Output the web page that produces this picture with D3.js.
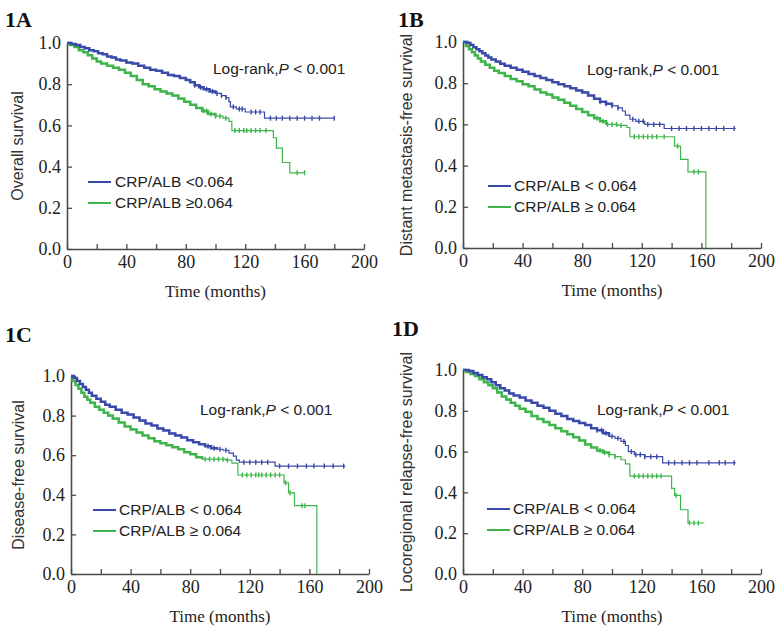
<!DOCTYPE html>
<html>
<head>
<meta charset="utf-8">
<script src="https://cdn.jsdelivr.net/npm/d3@7"></script>
<style>
  body { margin: 0; background: #fff; }
  svg { display: block; }
</style>
</head>
<body>
<svg id="chart" width="784" height="633"></svg>
<script>
// Kaplan-Meier step points [months, survival]
var osLow = [[0,1.0],[3,0.995],[6,0.99],[9,0.98],[12,0.975],[15,0.965],[18,0.96],[21,0.95],[24,0.945],[27,0.935],[30,0.93],[33,0.92],[36,0.915],[40,0.905],[44,0.9],[48,0.89],[52,0.88],[56,0.87],[60,0.865],[64,0.855],[68,0.845],[72,0.84],[76,0.83],[80,0.82],[83,0.81],[86,0.795],[89,0.785],[92,0.775],[96,0.765],[100,0.755],[104,0.745],[107,0.735],[109,0.715],[110,0.69],[114,0.68],[120,0.665],[133,0.635],[180,0.635]];
var osHigh = [[0,1.0],[2,0.99],[5,0.98],[8,0.965],[11,0.955],[14,0.94],[17,0.925],[20,0.91],[23,0.9],[27,0.89],[31,0.88],[35,0.87],[39,0.855],[43,0.84],[47,0.82],[51,0.8],[55,0.79],[59,0.775],[63,0.765],[67,0.755],[71,0.745],[75,0.73],[79,0.715],[83,0.7],[87,0.685],[91,0.67],[95,0.655],[100,0.645],[105,0.635],[109,0.62],[111,0.575],[139,0.54],[141,0.49],[145,0.42],[150,0.37],[160,0.37]];
var dmfsLow = [[0,1.0],[3,0.995],[5,0.985],[7,0.975],[9,0.965],[11,0.955],[13,0.945],[15,0.935],[17,0.925],[19,0.915],[22,0.905],[25,0.895],[28,0.885],[32,0.875],[36,0.865],[40,0.855],[44,0.845],[48,0.835],[52,0.825],[56,0.815],[60,0.805],[64,0.795],[68,0.785],[72,0.775],[76,0.765],[80,0.755],[84,0.74],[88,0.725],[92,0.71],[96,0.7],[100,0.69],[104,0.68],[107,0.665],[109,0.645],[112,0.625],[116,0.615],[122,0.6],[135,0.58],[183,0.58]];
var dmfsHigh = [[0,1.0],[2,0.98],[4,0.965],[6,0.95],[8,0.935],[10,0.92],[12,0.905],[15,0.89],[18,0.875],[21,0.86],[24,0.85],[28,0.835],[32,0.82],[36,0.81],[40,0.795],[44,0.785],[48,0.77],[52,0.755],[56,0.745],[60,0.73],[64,0.72],[68,0.705],[72,0.69],[76,0.675],[80,0.66],[84,0.645],[88,0.63],[92,0.615],[96,0.6],[104,0.595],[110,0.585],[112,0.54],[142,0.495],[146,0.43],[151,0.37],[163,0.0]];
var dfsLow = [[0,1.0],[2,0.99],[4,0.975],[6,0.96],[8,0.945],[10,0.93],[12,0.915],[14,0.9],[17,0.885],[20,0.87],[23,0.855],[26,0.845],[30,0.83],[34,0.815],[38,0.805],[42,0.79],[46,0.775],[50,0.76],[54,0.75],[58,0.735],[62,0.725],[66,0.71],[70,0.7],[74,0.69],[78,0.675],[82,0.665],[86,0.655],[90,0.645],[94,0.635],[98,0.63],[102,0.625],[106,0.61],[109,0.595],[111,0.575],[113,0.565],[137,0.545],[184,0.545]];
var dfsHigh = [[0,1.0],[1,0.975],[3,0.955],[5,0.935],[7,0.915],[9,0.895],[11,0.88],[13,0.865],[16,0.845],[19,0.83],[22,0.815],[25,0.8],[28,0.785],[32,0.765],[36,0.745],[40,0.73],[44,0.715],[48,0.7],[52,0.685],[56,0.67],[60,0.66],[64,0.65],[68,0.64],[72,0.63],[76,0.615],[80,0.605],[84,0.59],[88,0.58],[104,0.575],[108,0.56],[112,0.5],[143,0.46],[146,0.41],[150,0.345],[165,0.0]];
var lrrfsLow = [[0,1.0],[4,0.995],[7,0.985],[10,0.975],[13,0.965],[16,0.955],[19,0.94],[22,0.925],[25,0.91],[28,0.9],[31,0.885],[34,0.875],[38,0.865],[42,0.85],[46,0.84],[50,0.825],[54,0.815],[58,0.8],[62,0.785],[66,0.775],[70,0.76],[74,0.75],[78,0.74],[82,0.73],[86,0.715],[90,0.705],[94,0.69],[98,0.675],[102,0.665],[106,0.65],[109,0.63],[111,0.6],[115,0.585],[122,0.575],[134,0.545],[183,0.545]];
var lrrfsHigh = [[0,1.0],[2,0.99],[5,0.98],[8,0.97],[11,0.955],[14,0.94],[17,0.925],[20,0.91],[23,0.89],[26,0.87],[29,0.855],[32,0.84],[35,0.825],[38,0.81],[42,0.795],[46,0.775],[50,0.76],[54,0.745],[58,0.73],[62,0.715],[66,0.7],[70,0.685],[74,0.67],[78,0.655],[82,0.635],[86,0.62],[90,0.605],[94,0.595],[98,0.585],[102,0.575],[106,0.56],[109,0.54],[112,0.48],[140,0.42],[142,0.385],[146,0.315],[151,0.25],[162,0.25]];

// censoring times (months)
var osLowCens = [86,90,94,98,101,104,107,112,116,118,124,127,130,137,141,145,150,155,160,165,170,180];
var osHighCens = [92,94,97,100,103,107,113,116,119,121,124,127,130,134,155,160];
var dmfsLowCens = [92,96,100,104,114,118,121,124,128,132,140,145,150,155,160,165,170,175,182];
var dmfsHighCens = [90,94,97,100,103,106,115,118,121,124,127,130,135,144,155,158];
var dfsLowCens = [92,96,100,104,116,120,124,128,132,140,146,152,158,163,170,176,183];
var dfsHighCens = [90,93,96,99,102,105,115,118,121,124,126,128,131,134,137,140,144,147,155,157];
var lrrfsLowCens = [90,93,96,100,104,108,113,116,119,122,126,130,138,142,147,152,157,165,172,176,182];
var lrrfsHighCens = [92,95,98,102,115,118,121,124,127,130,133,143,152,155,158];

var xTicks = [0,20,40,60,80,100,120,140,160,180,200];
var yTicks = [0,0.2,0.4,0.6,0.8,1.0];
var groupNames = ["CRP/ALB  <0.064", "CRP/ALB  \u22650.064"];
var groupNamesSpaced = ["CRP/ALB < 0.064", "CRP/ALB \u2265 0.064"];

var blue = "#3a4aa8", green = "#3db54a", axisColor = "#4a4a4a";
var serif = "'Liberation Serif', 'Times New Roman', serif";
var sans = "'Liberation Sans', Arial, sans-serif";

var panels = [
  { tag: "1A", ylab: "Overall survival", low: osLow, high: osHigh, lowC: osLowCens, highC: osHighCens, names: groupNames,
    x0: 67, x1: 364, yTop: 43, yBot: 249, tagX: 5, tagY: 27, ylabX: 17, lrX: 213, lrY: 74, legX: 88, legY: 182, legX2: 115 },
  { tag: "1B", ylab: "Distant metastasis-free survival", low: dmfsLow, high: dmfsHigh, lowC: dmfsLowCens, highC: dmfsHighCens, names: groupNamesSpaced,
    x0: 463, x1: 761, yTop: 42, yBot: 248, tagX: 398, tagY: 27, ylabX: 406, lrX: 587, lrY: 75, legX: 488, legY: 186, legX2: 514 },
  { tag: "1C", ylab: "Disease-free survival", low: dfsLow, high: dfsHigh, lowC: dfsLowCens, highC: dfsHighCens, names: groupNamesSpaced,
    x0: 71, x1: 369, yTop: 376, yBot: 574, tagX: 5, tagY: 342, ylabX: 18, lrX: 200, lrY: 415, legX: 93, legY: 510, legX2: 119 },
  { tag: "1D", ylab: "Locoregional relapse-free survival", low: lrrfsLow, high: lrrfsHigh, lowC: lrrfsLowCens, highC: lrrfsHighCens, names: groupNamesSpaced,
    x0: 463, x1: 761, yTop: 370, yBot: 574, tagX: 392, tagY: 336, ylabX: 406, lrX: 597, lrY: 415, legX: 487, legY: 509, legX2: 513 }
];

var svg = d3.select("#chart");

// value of step curve at time t
function survAt(data, t) {
  var v = data[0][1];
  for (var i = 0; i < data.length; i++) { if (data[i][0] <= t) v = data[i][1]; }
  return v;
}

panels.forEach(function(p) {
  var g = svg.append("g");
  var x = d3.scaleLinear().domain([0, 200]).range([p.x0, p.x1]);
  var y = d3.scaleLinear().domain([0, 1]).range([p.yBot, p.yTop]);

  // panel tag
  g.append("text").attr("x", p.tagX).attr("y", p.tagY)
    .style("font-family", serif).style("font-weight", "bold").style("font-size", "22px")
    .attr("fill", "#111").text(p.tag);

  // axes, ticks pointing inward
  var xAxis = d3.axisBottom(x).tickValues(xTicks).tickSizeInner(-5).tickSizeOuter(0).tickPadding(6)
    .tickFormat(function(d) { return d % 40 === 0 ? d : ""; });
  var yAxis = d3.axisLeft(y).tickValues(yTicks).tickSizeInner(-5).tickSizeOuter(0).tickPadding(6)
    .tickFormat(d3.format(".1f"));

  var gx = g.append("g").attr("transform", "translate(0," + p.yBot + ")").call(xAxis);
  var gy = g.append("g").attr("transform", "translate(" + p.x0 + ",0)").call(yAxis);
  [gx, gy].forEach(function(a) {
    a.attr("font-family", null).attr("font-size", null);
    a.select(".domain").attr("stroke", axisColor).attr("stroke-width", 1.6);
    a.selectAll(".tick line").attr("stroke", axisColor).attr("stroke-width", 1.3);
    a.selectAll("text").attr("fill", "#222").style("font-family", serif).style("font-size", "18px");
  });

  // axis titles
  g.append("text").attr("x", (p.x0 + p.x1) / 2).attr("y", p.yBot + 48).attr("text-anchor", "middle")
    .style("font-family", serif).style("font-size", "17px").attr("fill", "#222").text("Time (months)");
  g.append("text").attr("transform", "translate(" + p.ylabX + "," + ((p.yTop + p.yBot) / 2) + ") rotate(-90)")
    .attr("text-anchor", "middle").attr("dy", "0.35em")
    .style("font-family", sans).style("font-size", "16px").attr("fill", "#333").text(p.ylab);

  // curves
  var line = d3.line().x(function(d) { return x(d[0]); }).y(function(d) { return y(d[1]); }).curve(d3.curveStepAfter);
  [[p.high, p.highC, green], [p.low, p.lowC, blue]].forEach(function(s) {
    g.append("path").datum(s[0]).attr("d", line).attr("fill", "none")
      .attr("stroke", s[2]).attr("stroke-width", 1.2);
    // the dense early part looks heavier in the figure
    g.append("path").datum(s[0].filter(function(d) { return d[0] <= 100; })).attr("d", line).attr("fill", "none")
      .attr("stroke", s[2]).attr("stroke-width", 2.5);
    g.selectAll(null).data(s[1]).enter().append("line")
      .attr("x1", function(t) { return x(t); }).attr("x2", function(t) { return x(t); })
      .attr("y1", function(t) { return y(survAt(s[0], t)) - 2.5; })
      .attr("y2", function(t) { return y(survAt(s[0], t)) + 2.5; })
      .attr("stroke", s[2]).attr("stroke-width", 1.4);
  });

  // log-rank annotation
  var lr = g.append("text").attr("x", p.lrX).attr("y", p.lrY)
    .style("font-family", sans).style("font-size", "15.5px").attr("fill", "#222");
  lr.append("tspan").text("Log-rank,");
  lr.append("tspan").style("font-style", "italic").text("P");
  lr.append("tspan").text(" <  0.001");

  // legend
  [blue, green].forEach(function(c, i) {
    var ly = p.legY + i * 21;
    g.append("line").attr("x1", p.legX).attr("x2", p.legX + 23).attr("y1", ly).attr("y2", ly)
      .attr("stroke", c).attr("stroke-width", 2);
    g.append("text").attr("x", p.legX2).attr("y", ly).attr("dy", "0.35em")
      .style("font-family", sans).style("font-size", "15.5px").attr("fill", "#222").text(p.names[i]);
  });
});
</script>
</body>
</html>
